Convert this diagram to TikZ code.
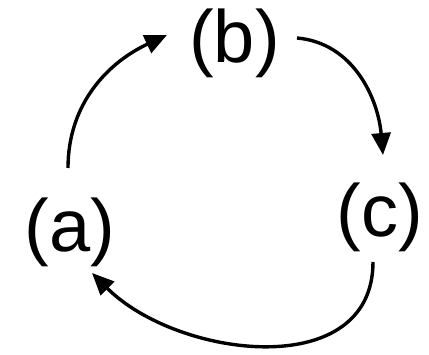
\documentclass[tikz,border=0pt]{standalone}
\usepackage{fontspec}
\setmainfont{Liberation Sans}
\usetikzlibrary{arrows.meta,calc}
\begin{document}
\begin{tikzpicture}[x=1pt,y=1pt,
  lbl/.style={inner sep=0pt,font=\fontsize{74}{80}\selectfont},
  conn/.style={line width=3.4pt,-{Triangle[length=22pt,width=19pt]}}]
\useasboundingbox (0,0) rectangle (429,354);
\node[lbl] (a) at (70,122) {(a)};
\node[lbl] (b) at (234.5,311) {(b)};
\node[lbl] (c) at (380,137) {(c)};
\draw[conn] ($(a)+(-2,64)$) to[out=90,in=205] ($(b)+(-67.5,8)$);
\draw[conn] ($(b)+(62.5,5)$) to[out=-5,in=95] ($(c)+(3,62)$);
\draw[conn] ($(c)+(-7,-45)$) to[out=-90,in=-45,looseness=1.1] ($(a)+(22,-41)$);
\end{tikzpicture}
\end{document}
